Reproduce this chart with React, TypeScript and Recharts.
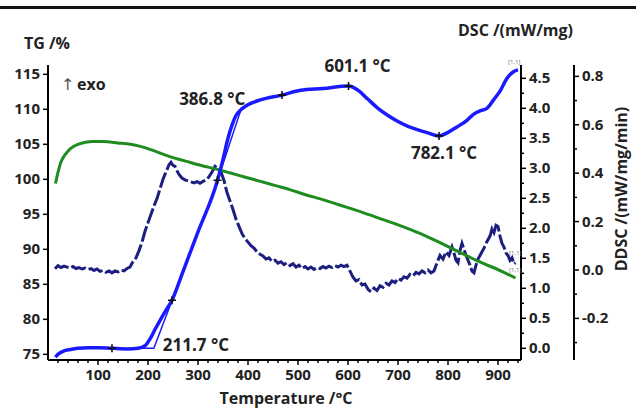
import { LineChart, Line, XAxis, YAxis, ReferenceDot } from "recharts";

const FONT = "'Open Sans', 'DejaVu Sans', sans-serif";

// TG (green, left axis, %)
const tgTemp = [15, 20, 25, 35, 45, 60, 75, 90, 110, 140, 165, 185, 215, 245, 275, 305, 340, 365, 395, 425, 455, 485, 515, 545, 580, 620, 660, 700, 740, 780, 820, 860, 900, 935];
const tgValue = [99.4, 101.0, 102.3, 103.6, 104.4, 105.0, 105.3, 105.4, 105.4, 105.2, 105.0, 104.7, 104.0, 103.2, 102.6, 102.0, 101.4, 100.9, 100.3, 99.7, 99.1, 98.5, 97.8, 97.2, 96.4, 95.5, 94.5, 93.5, 92.4, 91.1, 89.7, 88.3, 87.1, 85.9];

// DSC (blue, inner right axis, mW/mg)
const dscTemp = [15, 20, 30, 45, 60, 80, 100, 128, 160, 180, 195, 205, 215, 225, 235, 248, 270, 300, 339, 350, 360, 368, 376, 385, 398, 425, 468, 505, 550, 601, 620, 640, 660, 680, 700, 720, 740, 760, 782, 800, 818, 838, 851, 865, 878, 891, 905, 918, 931, 940];
const dscValue = [-0.15, -0.1, -0.05, -0.02, 0.0, 0.01, 0.01, 0.0, -0.01, 0.0, 0.05, 0.17, 0.33, 0.48, 0.62, 0.8, 1.28, 1.94, 2.8, 3.15, 3.5, 3.72, 3.88, 3.97, 4.05, 4.14, 4.22, 4.3, 4.33, 4.37, 4.3, 4.15, 4.0, 3.88, 3.78, 3.7, 3.64, 3.59, 3.54, 3.6, 3.69, 3.8, 3.9, 3.96, 4.0, 4.14, 4.3, 4.5, 4.61, 4.64];

// DDSC (navy, outer right axis, mW/mg/min)
const ddscTemp = [14, 20, 26, 32, 38, 44, 50, 56, 62, 68, 74, 80, 86, 92, 98, 104, 110, 116, 122, 128, 134, 140, 146, 152, 158, 164, 170, 176, 182, 188, 194, 200, 206, 212, 218, 224, 230, 236, 242, 246, 250, 254, 258, 262, 268, 274, 280, 286, 292, 298, 304, 310, 316, 322, 328, 334, 340, 346, 352, 358, 364, 370, 376, 382, 388, 394, 400, 406, 412, 418, 424, 430, 436, 442, 448, 454, 460, 466, 472, 478, 484, 490, 496, 502, 508, 514, 520, 526, 532, 538, 544, 550, 556, 562, 568, 574, 580, 586, 592, 598, 604, 610, 616, 622, 628, 634, 640, 646, 652, 658, 664, 670, 676, 682, 688, 694, 700, 706, 712, 718, 724, 730, 736, 742, 748, 754, 760, 766, 772, 778, 784, 790, 796, 802, 808, 812, 816, 820, 824, 828, 832, 836, 840, 844, 848, 852, 856, 860, 864, 868, 872, 876, 880, 884, 888, 892, 896, 900, 904, 908, 912, 916, 920, 924, 928, 932, 935];
const ddscValue = [0.005, 0.018, 0.01, 0.016, 0.012, 0.008, 0.014, 0.006, 0.01, 0.004, 0.008, 0.002, 0.006, -0.002, 0.004, -0.006, -0.002, -0.01, -0.004, -0.012, -0.004, -0.008, 0.0, -0.004, 0.006, 0.012, 0.035, 0.05, 0.08, 0.115, 0.16, 0.195, 0.23, 0.265, 0.295, 0.335, 0.375, 0.405, 0.435, 0.445, 0.432, 0.428, 0.41, 0.395, 0.38, 0.372, 0.368, 0.364, 0.36, 0.365, 0.358, 0.366, 0.372, 0.385, 0.405, 0.428, 0.418, 0.405, 0.37, 0.32, 0.285, 0.25, 0.21, 0.18, 0.15, 0.13, 0.115, 0.1, 0.09, 0.075, 0.065, 0.058, 0.045, 0.05, 0.035, 0.04, 0.028, 0.034, 0.022, 0.03, 0.018, 0.026, 0.012, 0.02, 0.006, 0.014, 0.004, 0.012, 0.002, 0.01, 0.006, 0.014, 0.008, 0.016, 0.01, 0.018, 0.012, 0.02, 0.014, 0.02, -0.005, -0.03, -0.045, -0.04, -0.062, -0.058, -0.08, -0.09, -0.075, -0.085, -0.065, -0.072, -0.055, -0.062, -0.045, -0.052, -0.035, -0.042, -0.028, -0.034, -0.018, -0.024, -0.01, -0.016, -0.004, -0.012, 0.0, -0.012, -0.004, 0.03, 0.06, 0.045, 0.075, 0.06, 0.095, 0.07, 0.04, 0.03, 0.08, 0.11, 0.085, 0.06, 0.04, 0.02, -0.005, -0.012, 0.02, 0.045, 0.06, 0.075, 0.09, 0.11, 0.125, 0.14, 0.17, 0.155, 0.185, 0.18, 0.14, 0.11, 0.095, 0.07, 0.06, 0.04, 0.05, 0.025, 0.03];

// tangent constructions on DSC
const onsetTemp = [185, 211.7, 250];
const onsetValue = [0.0, 0.0, 0.84];
const endTemp = [330, 386.8, 410];
const endValue = [2.57, 4.0, 4.09];

// "+" markers on DSC curve
const markerTemp = [128, 248, 339, 468, 601.1, 782.1];
const markerValue = [0.0, 0.8, 2.8, 4.22, 4.37, 3.54];

// annotated temperatures
const peakLabel = ["211.7 °C", "386.8 °C", "601.1 °C", "782.1 °C"];
const peakTemp = [211.7, 386.8, 601.1, 782.1];
const peakValue = [0.0, 4.0, 4.37, 3.54];
const peakOffset = [
  { dx: 9, dy: 3, anchor: "start" },
  { dx: 4, dy: -3, anchor: "end" },
  { dx: 9, dy: -14, anchor: "middle" },
  { dx: 5, dy: 23, anchor: "middle" },
];

const xTicks = [20, 40, 60, 80, 100, 120, 140, 160, 180, 200, 220, 240, 260, 280, 300, 320, 340, 360, 380, 400, 420, 440, 460, 480, 500, 520, 540, 560, 580, 600, 620, 640, 660, 680, 700, 720, 740, 760, 780, 800, 820, 840, 860, 880, 900, 920, 940];
const tgTicks = [75, 80, 85, 90, 95, 100, 105, 110, 115];
const dscTicks = [0, 0.25, 0.5, 0.75, 1, 1.25, 1.5, 1.75, 2, 2.25, 2.5, 2.75, 3, 3.25, 3.5, 3.75, 4, 4.25, 4.5];
const ddscTicks = [-0.3, -0.2, -0.1, 0, 0.1, 0.2, 0.3, 0.4, 0.5, 0.6, 0.7, 0.8];

const zip = (t: number[], v: number[]) => t.map((x, i) => ({ t: x, v: v[i] }));
const tgData = zip(tgTemp, tgValue);
const dscData = zip(dscTemp, dscValue);
const ddscData = zip(ddscTemp, ddscValue);
const onsetData = zip(onsetTemp, onsetValue);
const endData = zip(endTemp, endValue);

const labelStyle = { fontSize: 15, fontWeight: 700, fill: "#222", fontFamily: FONT };

function LeftTick(props: any) {
  const { x, y, payload } = props;
  const ax = x + 8;
  return (
    <g>
      <line x1={ax - 5} x2={ax} y1={y} y2={y} stroke="#000" strokeWidth={1.5} />
      <text x={x} y={y} dy={5} textAnchor="end" {...labelStyle}>{payload.value}</text>
    </g>
  );
}

function DscTick(props: any) {
  const { x, y, payload } = props;
  const ax = x - 8;
  const v = payload.value;
  const major = Math.abs(v * 2 - Math.round(v * 2)) < 1e-6;
  return (
    <g>
      <line x1={ax} x2={ax + (major ? 5 : 3)} y1={y} y2={y} stroke="#000" strokeWidth={1.5} />
      {major && <text x={x} y={y} dy={5} textAnchor="start" {...labelStyle}>{v.toFixed(1)}</text>}
    </g>
  );
}

function DdscTick(props: any) {
  const { x, y, payload } = props;
  const ax = x - 8;
  const v = payload.value;
  const major = Math.round(v * 10) % 2 === 0;
  return (
    <g>
      <line x1={ax} x2={ax + (major ? 5 : 3)} y1={y} y2={y} stroke="#000" strokeWidth={1.5} />
      {major && <text x={x} y={y} dy={5} textAnchor="start" {...labelStyle}>{v.toFixed(1)}</text>}
    </g>
  );
}

function BottomTick(props: any) {
  const { x, y, payload } = props;
  const ay = y - 8;
  const v = payload.value;
  const major = v % 100 === 0;
  return (
    <g>
      <line x1={x} x2={x} y1={ay} y2={ay + (major ? 5 : 3)} stroke="#000" strokeWidth={1.5} />
      {major && <text x={x} y={y} dy={12} textAnchor="middle" {...labelStyle}>{v}</text>}
    </g>
  );
}

const plusShape = (p: any) => (
  <path d={`M${p.cx - 4},${p.cy}h8M${p.cx},${p.cy - 4}v8`} stroke="#111" strokeWidth={1.6} fill="none" />
);

const textShape = (i: number) => (p: any) => (
  <text
    x={p.cx + peakOffset[i].dx}
    y={p.cy + peakOffset[i].dy}
    textAnchor={peakOffset[i].anchor as any}
    fontSize={17}
    fontWeight={700}
    fill="#222"
    fontFamily={FONT}
  >
    {peakLabel[i]}
  </text>
);

// axis ids: r1 = DSC (inner right), r2 = DDSC (outer right)
export default function App() {
  return (
    <div style={{ position: "absolute", left: 0, top: 0, width: 636, height: 408, background: "#fff" }}>
      <LineChart width={636} height={408} margin={{ top: 65, right: 0, bottom: 0, left: 0 }} style={{ fontFamily: FONT }}>
        <XAxis
          type="number"
          dataKey="t"
          domain={[0, 946]}
          allowDataOverflow
          ticks={xTicks}
          interval={0}
          height={48}
          tickSize={5}
          tickMargin={3}
          tickLine={false}
          tick={<BottomTick />}
          axisLine={{ stroke: "#000", strokeWidth: 2 }}
        />
        <YAxis
          yAxisId="l1"
          orientation="left"
          width={48}
          domain={[74.19, 116.33]}
          allowDataOverflow
          ticks={tgTicks}
          interval={0}
          tickSize={5}
          tickMargin={3}
          tickLine={false}
          tick={<LeftTick />}
          axisLine={{ stroke: "#000", strokeWidth: 2 }}
        />
        <YAxis
          yAxisId="r1"
          orientation="right"
          width={53}
          domain={[-0.195, 4.722]}
          allowDataOverflow
          ticks={dscTicks}
          interval={0}
          tickSize={5}
          tickMargin={3}
          tickLine={false}
          tick={<DscTick />}
          axisLine={{ stroke: "#000", strokeWidth: 2 }}
        />
        <YAxis
          yAxisId="r2"
          orientation="right"
          width={62}
          domain={[-0.372, 0.847]}
          allowDataOverflow
          ticks={ddscTicks}
          interval={0}
          tickSize={5}
          tickMargin={3}
          tickLine={false}
          tick={<DdscTick />}
          axisLine={{ stroke: "#000", strokeWidth: 2 }}
        />
        <Line yAxisId="r2" data={ddscData} dataKey="v" type="linear" stroke="#1c1f80" strokeWidth={3} strokeDasharray="16 3" dot={false} isAnimationActive={false} />
        <Line yAxisId="l1" data={tgData} dataKey="v" type="monotone" stroke="#1f8c1f" strokeWidth={3} dot={false} isAnimationActive={false} />
        <Line yAxisId="r1" data={onsetData} dataKey="v" type="linear" stroke="#1a1aff" strokeWidth={1.5} dot={false} isAnimationActive={false} />
        <Line yAxisId="r1" data={endData} dataKey="v" type="linear" stroke="#1a1aff" strokeWidth={1.5} dot={false} isAnimationActive={false} />
        <Line yAxisId="r1" data={dscData} dataKey="v" type="monotone" stroke="#1a1aff" strokeWidth={3.5} dot={false} isAnimationActive={false} />
        {markerTemp.map((t, i) => (
          <ReferenceDot key={"m" + i} yAxisId="r1" x={t} y={markerValue[i]} r={4} shape={plusShape} />
        ))}
        {peakTemp.map((t, i) => (
          <ReferenceDot key={"p" + i} yAxisId="r1" x={t} y={peakValue[i]} r={1} shape={textShape(i)} />
        ))}
      </LineChart>
      <svg width={636} height={408} style={{ position: "absolute", left: 0, top: 0, pointerEvents: "none" }} fontFamily={FONT}>
        <rect x={0} y={6} width={636} height={3} fill="#111" />
        <text x={24} y={49} fontSize={16} fontWeight={700} fill="#222">TG /%</text>
        <text x={458} y={36} fontSize={16} fontWeight={700} fill="#222">DSC /(mW/mg)</text>
        <text x={61} y={90} fontSize={16} fill="#555">↑</text>
        <text x={77} y={90} fontSize={16} fontWeight={700} fill="#222">exo</text>
        <text x={286} y={404} textAnchor="middle" fontSize={16} fontWeight={700} fill="#222">Temperature /°C</text>
        <text x={633} y={195} textAnchor="middle" fontSize={16} fontWeight={700} fill="#222" transform="rotate(-90 627 195)">DDSC /(mW/mg/min)</text>
        <text x={508} y={64} fontSize={6} fill="#777">[1,1]</text>
        <text x={509} y={255} fontSize={6} fill="#777">[1,1]</text>
        <text x={509} y={272} fontSize={6} fill="#777">[1,1]</text>
      </svg>
    </div>
  );
}
